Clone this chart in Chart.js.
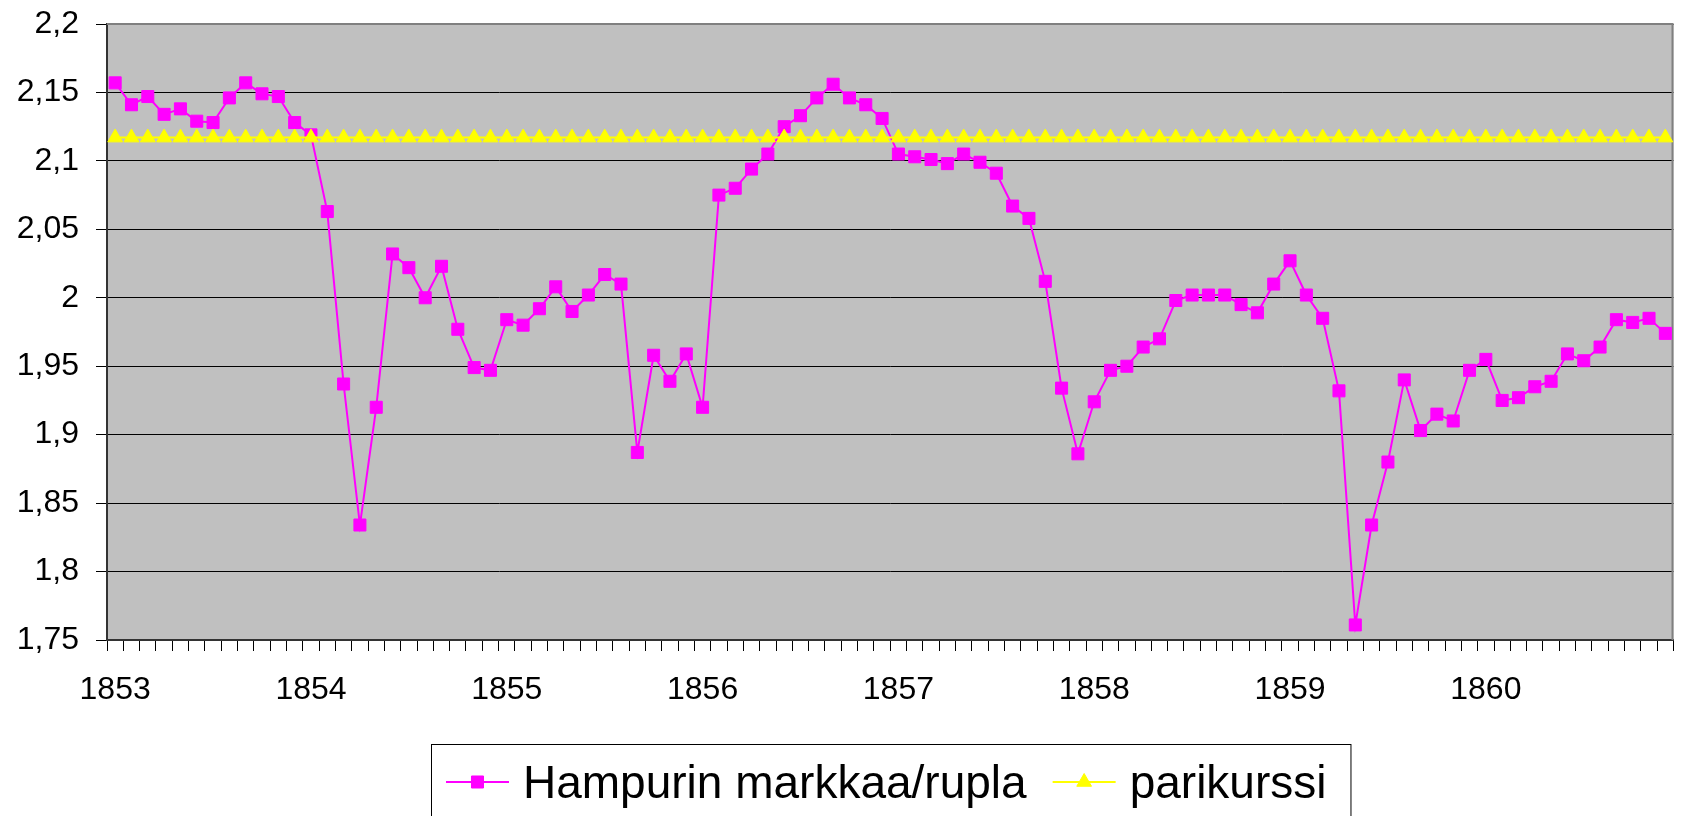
<!DOCTYPE html>
<html>
<head>
<meta charset="utf-8">
<script src="https://cdn.jsdelivr.net/npm/chart.js@4/dist/chart.umd.min.js"></script>
<style>
html,body{margin:0;padding:0;background:#fff;}
canvas{display:block;}
</style>
</head>
<body>
<canvas id="c" width="1683" height="816"></canvas>
<script>
// ---- data ----
const years = ['1853', '1854', '1855', '1856', '1857', '1858', '1859', '1860'];
const monthsPerYear = 12;

const seriesNames = ['Hampurin markkaa/rupla', 'parikurssi'];

// Hamburg marks per rouble, monthly 1853-1860
const hamburgRate = [
  2.157, 2.141, 2.147, 2.134, 2.138, 2.129, 2.128, 2.146, 2.157, 2.149, 2.147, 2.128,
  2.119, 2.063, 1.937, 1.834, 1.920, 2.032, 2.022, 2.000, 2.023, 1.977, 1.949, 1.947,
  1.984, 1.980, 1.992, 2.008, 1.990, 2.002, 2.017, 2.010, 1.887, 1.958, 1.939, 1.959,
  1.920, 2.075, 2.080, 2.094, 2.105, 2.125, 2.133, 2.146, 2.156, 2.146, 2.141, 2.131,
  2.105, 2.103, 2.101, 2.098, 2.105, 2.099, 2.091, 2.067, 2.058, 2.012, 1.934, 1.886,
  1.924, 1.947, 1.950, 1.964, 1.970, 1.998, 2.002, 2.002, 2.002, 1.995, 1.989, 2.010,
  2.027, 2.002, 1.985, 1.932, 1.761, 1.834, 1.880, 1.940, 1.903, 1.915, 1.910, 1.947,
  1.955, 1.925, 1.927, 1.935, 1.939, 1.959, 1.954, 1.964, 1.984, 1.982, 1.985, 1.974
];

// par rate
const parRate = [
  2.117, 2.117, 2.117, 2.117, 2.117, 2.117, 2.117, 2.117, 2.117, 2.117, 2.117, 2.117,
  2.117, 2.117, 2.117, 2.117, 2.117, 2.117, 2.117, 2.117, 2.117, 2.117, 2.117, 2.117,
  2.117, 2.117, 2.117, 2.117, 2.117, 2.117, 2.117, 2.117, 2.117, 2.117, 2.117, 2.117,
  2.117, 2.117, 2.117, 2.117, 2.117, 2.117, 2.117, 2.117, 2.117, 2.117, 2.117, 2.117,
  2.117, 2.117, 2.117, 2.117, 2.117, 2.117, 2.117, 2.117, 2.117, 2.117, 2.117, 2.117,
  2.117, 2.117, 2.117, 2.117, 2.117, 2.117, 2.117, 2.117, 2.117, 2.117, 2.117, 2.117,
  2.117, 2.117, 2.117, 2.117, 2.117, 2.117, 2.117, 2.117, 2.117, 2.117, 2.117, 2.117,
  2.117, 2.117, 2.117, 2.117, 2.117, 2.117, 2.117, 2.117, 2.117, 2.117, 2.117, 2.117
];

const yTicks = [1.75, 1.8, 1.85, 1.9, 1.95, 2, 2.05, 2.1, 2.15, 2.2];

// categories: one per month, year shown on January
const categories = years.flatMap(y => {
  const arr = [y];
  for (let m = 1; m < monthsPerYear; m++) arr.push('');
  return arr;
});

// ---- styling ----
const FONT = '"Liberation Sans", Arial, sans-serif';
const PLOT_BG = '#C0C0C0';

const bgPlugin = {
  id: 'bg',
  beforeDraw(chart) {
    const {ctx, chartArea: a} = chart;
    ctx.save();
    ctx.fillStyle = '#FFFFFF';
    ctx.fillRect(0, 0, chart.width, chart.height);
    ctx.fillStyle = PLOT_BG;
    ctx.fillRect(a.left, a.top, a.right - a.left, a.bottom - a.top);
    ctx.restore();
  },
  beforeDatasetsDraw(chart) {
    const {ctx, chartArea: a} = chart;
    ctx.save();
    ctx.strokeStyle = '#808080';
    ctx.lineWidth = 2;
    ctx.beginPath();
    ctx.moveTo(a.left, a.top);
    ctx.lineTo(a.right - 1, a.top);
    ctx.lineTo(a.right - 1, a.bottom);
    ctx.stroke();
    ctx.restore();
  }
};

const legendPlugin = {
  id: 'boxLegend',
  afterDraw(chart) {
    const {ctx, chartArea: a} = chart;
    const ds = chart.data.datasets;
    ctx.save();
    ctx.font = '46px ' + FONT;
    const lineLen = 63, padL = 15, gapText = 14, gapItem = 26, padR = 24;
    const widths = ds.map(d => ctx.measureText(d.label).width);
    let total = padL + padR;
    widths.forEach((w, i) => { total += lineLen + gapText + w + (i < widths.length - 1 ? gapItem : 0); });
    const cx = (a.left + a.right) / 2;
    const left = Math.round(cx - total / 2);
    const top = 744;
    ctx.strokeStyle = '#000';
    ctx.lineWidth = 1;
    ctx.strokeRect(left + 0.5, top + 0.5, total, 120);
    const yMid = 782;
    let x = left + padL;
    ds.forEach((d, i) => {
      ctx.strokeStyle = d.borderColor;
      ctx.lineWidth = 2;
      ctx.beginPath();
      ctx.moveTo(x, yMid);
      ctx.lineTo(x + lineLen, yMid);
      ctx.stroke();
      ctx.fillStyle = d.pointBackgroundColor;
      ctx.strokeStyle = d.pointBorderColor;
      ctx.lineWidth = d.pointBorderWidth;
      Chart.helpers.drawPoint(ctx, {
        pointStyle: d.pointStyle, radius: d.pointRadius, rotation: 0, borderWidth: d.pointBorderWidth
      }, x + lineLen / 2, yMid);
      x += lineLen + gapText;
      ctx.fillStyle = '#000';
      ctx.textBaseline = 'alphabetic';
      ctx.textAlign = 'left';
      ctx.fillText(d.label, x, 798);
      x += widths[i] + gapItem;
    });
    ctx.restore();
  }
};

new Chart(document.getElementById('c'), {
  type: 'line',
  data: {
    labels: categories,
    datasets: [
      {
        label: seriesNames[0],
        data: hamburgRate,
        borderColor: '#FF00FF',
        backgroundColor: '#FF00FF',
        borderWidth: 2,
        pointStyle: 'rect',
        pointRadius: 8.5,
        pointBorderWidth: 1,
        pointBackgroundColor: '#FF00FF',
        pointBorderColor: '#FF00FF',
        tension: 0,
        fill: false,
        order: 2
      },
      {
        label: seriesNames[1],
        data: parRate,
        borderColor: '#FFFF00',
        backgroundColor: '#FFFF00',
        borderWidth: 2,
        pointStyle: 'triangle',
        pointRadius: 8.5,
        pointBorderWidth: 1,
        pointBackgroundColor: '#FFFF00',
        pointBorderColor: '#FFFF00',
        tension: 0,
        fill: false,
        order: 1
      }
    ]
  },
  options: {
    responsive: false,
    animation: false,
    devicePixelRatio: 1,
    layout: { padding: { left: 0, top: 24, right: 2, bottom: 0 } },
    plugins: {
      legend: { display: false },
      tooltip: { enabled: false },
      title: { display: false }
    },
    scales: {
      x: {
        type: 'category',
        offset: true,
        grid: {
          offset: true,
          drawOnChartArea: false,
          drawTicks: true,
          tickLength: 11,
          color: '#000',
          lineWidth: 1
        },
        border: { display: true, color: '#333', width: 2 },
        ticks: {
          autoSkip: false,
          maxRotation: 0,
          minRotation: 0,
          padding: 20,
          color: '#000',
          font: { family: FONT, size: 32 }
        },
        afterFit(scale) {
          scale.height = 176;
          scale.paddingLeft = 0;
          scale.paddingRight = 0;
        }
      },
      y: {
        min: 1.75,
        max: 2.2,
        afterBuildTicks(scale) { scale.ticks = yTicks.map(v => ({ value: v })); },
        grid: {
          drawOnChartArea: true,
          drawTicks: true,
          tickLength: 11,
          color: '#000',
          lineWidth: 1
        },
        border: { display: true, color: '#333', width: 2 },
        ticks: {
          padding: 17,
          color: '#000',
          font: { family: FONT, size: 32 },
          callback: v => String(Math.round(v * 100) / 100).replace('.', ',')
        },
        afterFit(scale) {
          scale.width = 107;
          scale.paddingTop = 0;
          scale.paddingBottom = 0;
        }
      }
    }
  },
  plugins: [bgPlugin, legendPlugin]
});
</script>
</body>
</html>
